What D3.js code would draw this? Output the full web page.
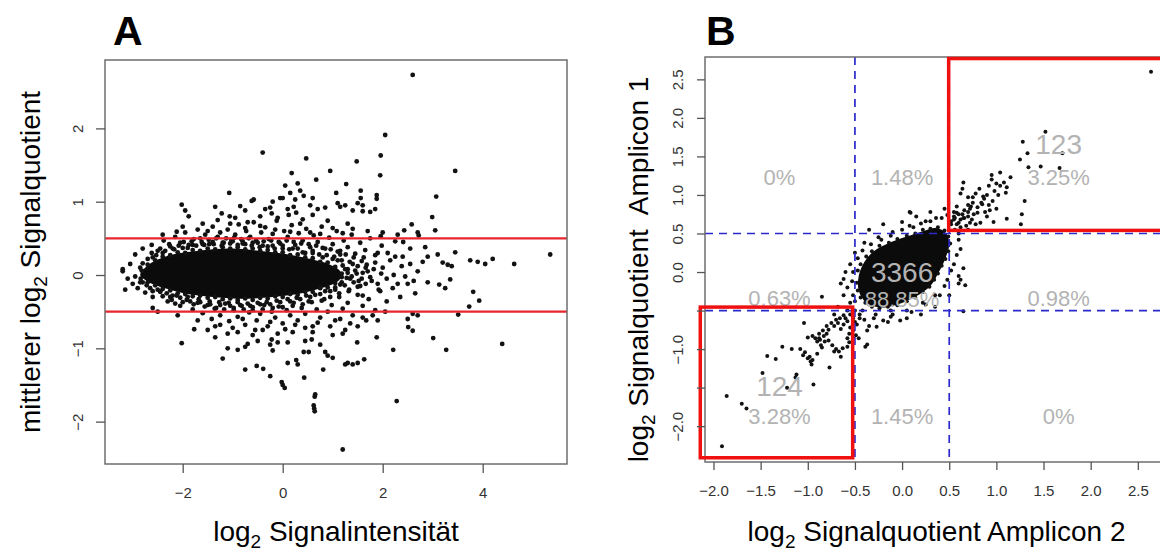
<!DOCTYPE html>
<html>
<head>
<meta charset="utf-8">
<script src="https://cdn.jsdelivr.net/npm/d3@7"></script>
<style>
  body { margin: 0; background: #fff; }
  svg { display: block; font-family: "Liberation Sans", Arial, Helvetica, sans-serif; }
</style>
</head>
<body>
<div id="chart"></div>
<script>
"use strict";

// ---- panel A: MA plot (mean log2 ratio vs log2 intensity) ----
const ticksAx = [-2, 0, 2, 4];
const ticksAy = [-2, -1, 0, 1, 2];
const limitsA = [0.5, -0.5];

// solid dense centre of the cloud (outline, data units)
const coreA = [
  [-2.85, 0.0], [-2.72, 0.12], [-2.5, 0.21], [-2.2, 0.28], [-1.8, 0.32], [-1.4, 0.35], [-1.0, 0.36],
  [-0.6, 0.34], [-0.2, 0.31], [0.2, 0.27], [0.6, 0.21], [0.95, 0.14], [1.15, 0.05], [1.15, -0.05],
  [0.95, -0.14], [0.6, -0.21], [0.2, -0.27], [-0.2, -0.3], [-0.6, -0.32], [-1.0, -0.32],
  [-1.4, -0.3], [-1.8, -0.27], [-2.2, -0.21], [-2.5, -0.15], [-2.72, -0.08]
];

// points on the rim of the dense centre
const rimA = [
  [-2.7, 0.14], [-2.55, 0.2], [-2.4, 0.25], [-2.25, 0.27], [-2.1, 0.31], [-1.95, 0.3], [-1.8, 0.34],
  [-1.65, 0.33], [-1.5, 0.36], [-1.35, 0.35], [-1.2, 0.38], [-1.05, 0.36], [-0.9, 0.38], [-0.75, 0.35],
  [-0.6, 0.36], [-0.45, 0.33], [-0.3, 0.34], [-0.15, 0.31], [0.0, 0.31], [0.15, 0.27], [0.3, 0.28],
  [0.45, 0.24], [0.6, 0.23], [0.75, 0.18], [0.9, 0.17], [1.05, 0.11], [1.18, 0.02],
  [-2.7, -0.1], [-2.55, -0.14], [-2.4, -0.19], [-2.25, -0.21], [-2.1, -0.25], [-1.95, -0.26],
  [-1.8, -0.29], [-1.65, -0.28], [-1.5, -0.31], [-1.35, -0.3], [-1.2, -0.33], [-1.05, -0.32],
  [-0.9, -0.34], [-0.75, -0.32], [-0.6, -0.34], [-0.45, -0.31], [-0.3, -0.32], [-0.15, -0.29],
  [0.0, -0.3], [0.15, -0.26], [0.3, -0.27], [0.45, -0.23], [0.6, -0.23], [0.75, -0.18], [0.9, -0.17],
  [1.05, -0.11], [1.18, -0.03], [-2.82, 0.06], [-2.84, -0.05]
];

const edgeA = [
  [-2.8, 0.16], [-2.6, 0.24], [-2.4, 0.3], [-2.2, 0.36], [-2.0, 0.37], [-1.8, 0.41], [-1.6, 0.42],
  [-1.4, 0.45], [-1.2, 0.44], [-1.0, 0.46], [-0.8, 0.43], [-0.6, 0.44], [-0.4, 0.4], [-0.2, 0.4],
  [0.0, 0.36], [0.2, 0.36], [0.4, 0.31], [0.6, 0.3], [0.8, 0.24], [1.0, 0.22], [1.2, 0.13], [1.3, 0.03],
  [-2.85, -0.1], [-2.65, -0.18], [-2.45, -0.23], [-2.25, -0.3], [-2.05, -0.31], [-1.85, -0.36],
  [-1.65, -0.37], [-1.45, -0.4], [-1.25, -0.41], [-1.05, -0.42], [-0.85, -0.41], [-0.65, -0.42],
  [-0.45, -0.4], [-0.25, -0.4], [-0.05, -0.37], [0.15, -0.36], [0.35, -0.33], [0.55, -0.3],
  [0.75, -0.26], [0.95, -0.22], [1.15, -0.13], [1.28, -0.04],
  [-2.7, 0.22], [-2.62, 0.3], [-2.53, 0.27], [-2.45, 0.36], [-2.35, 0.33], [-2.27, 0.42], [-2.17, 0.35],
  [-2.08, 0.4], [-1.98, 0.45], [-1.9, 0.37], [-1.82, 0.46], [-1.73, 0.4], [-1.65, 0.5], [-1.57, 0.41],
  [-1.48, 0.48], [-1.38, 0.42], [-1.3, 0.52], [-1.22, 0.4], [-1.13, 0.5], [-1.05, 0.43], [-0.97, 0.51],
  [-0.9, 0.41], [-0.83, 0.49], [-0.75, 0.42], [-0.68, 0.5], [-0.62, 0.4], [-0.53, 0.47], [-0.46, 0.38],
  [-0.38, 0.46], [-0.3, 0.39], [-0.23, 0.47], [-0.16, 0.36], [-0.08, 0.45], [0.0, 0.4], [0.08, 0.47],
  [0.13, 0.35], [0.22, 0.45], [0.3, 0.36], [0.37, 0.43], [0.45, 0.3], [0.52, 0.42], [0.6, 0.33],
  [0.67, 0.4], [0.73, 0.28], [0.8, 0.37], [0.88, 0.27], [0.96, 0.35], [1.03, 0.25], [1.1, 0.32],
  [1.18, 0.2], [1.26, 0.28], [1.34, 0.18], [1.42, 0.24], [1.5, 0.12], [1.58, 0.19], [1.66, 0.1],
  [-2.72, -0.14], [-2.6, -0.22], [-2.5, -0.2], [-2.4, -0.29], [-2.32, -0.25], [-2.22, -0.34],
  [-2.12, -0.28], [-2.0, -0.37], [-1.9, -0.3], [-1.78, -0.4], [-1.68, -0.33], [-1.56, -0.43],
  [-1.46, -0.36], [-1.36, -0.46], [-1.27, -0.37], [-1.17, -0.47], [-1.08, -0.38], [-0.98, -0.45],
  [-0.9, -0.37], [-0.78, -0.47], [-0.7, -0.39], [-0.6, -0.48], [-0.5, -0.38], [-0.4, -0.47],
  [-0.32, -0.37], [-0.2, -0.45], [-0.12, -0.35], [0.0, -0.44], [0.1, -0.33], [0.2, -0.42], [0.28, -0.31],
  [0.4, -0.4], [0.47, -0.28], [0.58, -0.37], [0.65, -0.27], [0.78, -0.35], [0.85, -0.22], [0.95, -0.3],
  [1.05, -0.17], [1.13, -0.25], [1.24, -0.14], [1.33, -0.2], [1.42, -0.1], [1.5, -0.16], [1.58, -0.05],
  [1.66, -0.12], [1.3, 0.08], [1.38, -0.02], [1.45, 0.06], [1.52, -0.08], [1.6, 0.03], [1.68, 0.14],
  [1.75, -0.03], [1.82, 0.08], [1.9, -0.12], [1.97, 0.02]
];

const midA = [
  [-2.95, 0.28], [-2.8, 0.36], [-2.62, 0.41], [-2.5, 0.33], [-2.38, 0.47], [-2.25, 0.39], [-2.15, 0.52],
  [-2.05, 0.44], [-1.95, 0.58], [-1.88, 0.41], [-1.78, 0.49], [-1.7, 0.62], [-1.62, 0.45], [-1.55, 0.55],
  [-1.47, 0.42], [-1.4, 0.66], [-1.33, 0.5], [-1.25, 0.58], [-1.18, 0.44], [-1.1, 0.62], [-1.03, 0.48],
  [-0.95, 0.55], [-0.88, 0.69], [-0.8, 0.46], [-0.73, 0.6], [-0.65, 0.52], [-0.58, 0.72], [-0.5, 0.44],
  [-0.43, 0.58], [-0.35, 0.65], [-0.28, 0.49], [-0.2, 0.56], [-0.12, 0.74], [-0.05, 0.43], [0.03, 0.6],
  [0.1, 0.52], [0.18, 0.68], [0.25, 0.41], [0.32, 0.57], [0.4, 0.47], [0.47, 0.63], [0.55, 0.38],
  [0.62, 0.54], [0.7, 0.45], [0.78, 0.66], [0.85, 0.36], [0.93, 0.51], [1.0, 0.42], [1.08, 0.6],
  [1.15, 0.33], [1.22, 0.47], [1.3, 0.38], [1.38, 0.55], [1.45, 0.29], [1.55, 0.44], [1.65, 0.34],
  [1.75, 0.5], [1.85, 0.27], [1.98, 0.4], [2.1, 0.3], [2.25, 0.46], [2.4, 0.25], [2.55, 0.36],
  [-2.4, 0.55], [-2.0, 0.66], [-1.5, 0.6], [-1.05, 0.7], [-0.75, 0.64], [-0.45, 0.67], [-0.15, 0.62],
  [0.15, 0.59], [0.35, 0.7], [0.55, 0.58], [0.75, 0.56], [1.0, 0.64], [1.2, 0.57], [1.4, 0.63],
  [1.7, 0.6], [2.0, 0.58], [2.3, 0.55],
  [-3.1, -0.05], [-2.9, -0.18], [-2.75, -0.24], [-2.6, -0.3], [-2.45, -0.22], [-2.3, -0.36], [-2.2, -0.28],
  [-2.05, -0.42], [-1.92, -0.34], [-1.8, -0.47], [-1.7, -0.38], [-1.6, -0.52], [-1.5, -0.41], [-1.42, -0.6],
  [-1.33, -0.45], [-1.25, -0.55], [-1.15, -0.39], [-1.07, -0.63], [-0.98, -0.48], [-0.9, -0.57],
  [-0.82, -0.42], [-0.75, -0.68], [-0.67, -0.51], [-0.6, -0.44], [-0.52, -0.62], [-0.45, -0.53],
  [-0.37, -0.41], [-0.3, -0.7], [-0.22, -0.5], [-0.15, -0.58], [-0.08, -0.43], [0.0, -0.66], [0.08, -0.48],
  [0.15, -0.55], [0.22, -0.38], [0.3, -0.62], [0.38, -0.45], [0.45, -0.53], [0.52, -0.36], [0.6, -0.7],
  [0.68, -0.47], [0.75, -0.58], [0.83, -0.33], [0.9, -0.5], [0.98, -0.41], [1.05, -0.62], [1.13, -0.3],
  [1.2, -0.46], [1.3, -0.38], [1.4, -0.55], [1.5, -0.27], [1.6, -0.42], [1.72, -0.33], [1.85, -0.48],
  [1.95, -0.22], [2.08, -0.36], [2.2, -0.18], [2.35, -0.3], [2.5, -0.12], [2.65, -0.25],
  [-2.5, -0.5], [-2.1, -0.55], [-1.7, -0.62], [-1.35, -0.7], [-1.0, -0.72], [-0.8, -0.6], [-0.55, -0.75],
  [-0.25, -0.64], [0.05, -0.74], [0.25, -0.68], [0.45, -0.72], [0.7, -0.65], [0.95, -0.7], [1.15, -0.6],
  [1.35, -0.66], [1.6, -0.58], [1.8, -0.55], [2.05, -0.5],
  [1.1, 0.2], [1.18, -0.1], [1.25, 0.08], [1.32, -0.22], [1.4, 0.15], [1.48, 0.02], [1.55, -0.15],
  [1.62, 0.24], [1.7, 0.05], [1.78, -0.08], [1.85, 0.17], [1.92, -0.2], [2.0, 0.1], [2.08, -0.05],
  [2.15, 0.2], [2.22, 0.0], [2.3, -0.12], [2.38, 0.12], [2.45, -0.02], [2.55, 0.15], [2.62, -0.08],
  [2.7, 0.05], [2.8, 0.18], [2.9, -0.1], [1.05, -0.2], [1.15, 0.28], [1.35, -0.05], [1.6, -0.28],
  [1.9, 0.3], [2.25, 0.25],
  [-3.2, 0.08], [-3.05, 0.15], [-2.95, -0.02], [-2.85, 0.1], [-2.8, -0.1], [-3.0, -0.12]
];

const outA = [
  [2.6, 2.73], [2.05, 1.91], [1.96, 1.63], [1.48, 1.55], [1.95, 1.36], [3.45, 1.42], [1.27, 1.24],
  [-0.4, 1.67], [0.47, 1.59], [0.95, 1.42], [0.18, 1.39], [0.67, 1.3], [0.05, 1.22], [0.3, 1.25],
  [0.15, 1.12], [-0.05, 1.05], [0.35, 1.15], [0.42, 1.08], [0.25, 1.03], [-0.2, 1.0], [0.6, 1.05],
  [0.55, 0.95], [-1.07, 1.12], [1.07, 1.12], [-2.02, 0.96], [-1.95, 0.88], [-1.88, 0.8], [-1.35, 0.93],
  [-1.22, 0.84], [-0.62, 1.01], [-0.58, 1.03], [-0.85, 0.94], [-0.75, 0.88], [-1.06, 0.8], [-0.35, 0.9],
  [-0.25, 0.92], [-0.22, 0.84], [0.0, 1.05], [0.1, 0.9], [0.22, 0.93], [0.12, 0.82], [0.27, 0.85],
  [0.7, 0.9], [0.85, 0.92], [1.56, 1.15], [1.56, 1.05], [1.88, 1.09], [1.88, 1.04], [3.07, 1.07],
  [1.1, 0.98], [1.5, 0.98], [1.15, 0.93], [1.25, 0.95], [1.6, 0.95], [1.4, 0.88], [1.6, 0.87],
  [1.75, 0.86], [1.85, 0.9], [2.99, 0.79], [3.05, 0.61], [2.58, 0.69], [2.43, 0.61], [2.7, 0.58],
  [2.72, 0.54], [1.96, 0.53], [3.45, 0.31], [5.35, 0.28], [4.63, 0.15], [4.2, 0.22], [4.05, 0.15],
  [3.9, 0.18], [3.75, 0.2], [2.41, 0.45], [2.85, 0.38], [3.2, 0.17], [3.3, 0.14], [3.38, 0.12],
  [3.1, 0.28], [2.9, 0.25], [-2.12, 0.59], [-1.6, 0.7], [-1.3, 0.75], [-0.95, 0.78], [-0.45, 0.8],
  [-0.1, 0.78], [0.4, 0.76], [0.9, 0.74], [1.3, 0.7], [-0.7, 0.72], [0.6, 0.82],
  [1.2, -2.38], [0.65, -1.63], [0.64, -1.66], [0.62, -1.78], [0.63, -1.82], [0.64, -1.86], [2.28, -1.72],
  [-0.02, -1.46], [0.0, -1.5], [0.04, -1.54], [-0.25, -1.38], [-0.75, -1.29], [-0.52, -1.24],
  [-0.39, -1.28], [-1.2, -1.14], [-2.02, -0.93], [-1.77, -0.74], [-1.1, -1.0], [-0.9, -1.02],
  [-0.75, -0.98], [-0.7, -0.94], [0.43, -1.4], [0.1, -1.2], [0.3, -1.22], [0.27, -1.16], [0.81, -1.29],
  [1.25, -1.22], [1.4, -1.22], [1.0, -1.13], [0.85, -1.05], [0.9, -1.1], [0.75, -0.95], [0.58, -0.88],
  [0.45, -0.9], [0.42, -1.05], [0.52, -1.05], [-0.2, -1.03], [-0.1, -0.92], [-0.25, -0.95],
  [-0.22, -0.88], [2.21, -1.02], [3.27, -1.02], [3.01, -0.86], [4.39, -0.94], [3.81, -0.23],
  [3.93, -0.35], [3.73, -0.43], [3.51, -0.54], [3.35, -0.06], [3.25, -0.18], [3.13, -0.13],
  [2.51, -0.71], [2.6, -0.76], [2.5, -0.6], [2.6, -0.53], [2.7, -0.55], [1.88, -0.85], [1.49, -0.92],
  [1.63, -1.15], [1.5, -1.2], [1.3, -1.2], [1.9, -0.62], [1.67, -0.62], [1.5, -0.7], [1.25, -0.75],
  [1.2, -0.8], [-1.5, -0.75], [-1.35, -0.85], [-1.1, -0.8], [-0.9, -0.78], [-0.6, -0.82], [-0.4, -0.75],
  [-0.1, -0.8], [0.2, -0.78], [0.6, -0.78], [1.0, -0.82], [-1.25, -0.68], [-0.5, -0.9], [0.1, -0.92],
  [-2.6, -0.45], [-2.15, -0.39], [-3.15, -0.2], [-3.2, 0.05]
];

// ---- panel B: replicate amplicons ----
const ticksBx = [-2, -1.5, -1, -0.5, 0, 0.5, 1, 1.5, 2, 2.5];
const ticksBy = [-2, -1.5, -1, -0.5, 0, 0.5, 1, 1.5, 2, 2.5];
const hiddenBy = [-1.5, -0.5];
const cutsB = [-0.5, 0.5];
const boxesB = [
  { x0: -2.14, x1: -0.524, y0: -2.41, y1: -0.455 },
  { x0: 0.494, x1: 2.95, y0: 0.54, y1: 2.77 }
];
const countsB = [
  { label: "123", x: 1.66, y: 1.65 },
  { label: "3366", x: 0.0, y: -0.01 },
  { label: "124", x: -1.3, y: -1.49 }
];
const percentsB = [
  { label: "0%", x: -1.3, y: 1.23 },
  { label: "1.48%", x: 0.0, y: 1.23 },
  { label: "3.25%", x: 1.66, y: 1.23 },
  { label: "0.63%", x: -1.3, y: -0.34 },
  { label: "88.85%", x: 0.0, y: -0.36 },
  { label: "0.98%", x: 1.66, y: -0.34 },
  { label: "3.28%", x: -1.3, y: -1.88 },
  { label: "1.45%", x: 0.0, y: -1.88 },
  { label: "0%", x: 1.66, y: -1.88 }
];

const coreB = [
  [-0.46, -0.05], [-0.4, 0.13], [-0.3, 0.27], [-0.15, 0.37], [0.05, 0.46], [0.22, 0.53], [0.36, 0.57],
  [0.47, 0.5], [0.5, 0.36], [0.46, 0.18], [0.39, 0.0], [0.3, -0.18], [0.14, -0.32], [-0.05, -0.42],
  [-0.24, -0.46], [-0.38, -0.4], [-0.46, -0.24]
];

const rimB = [
  [-0.47, 0.02], [-0.44, 0.1], [-0.38, 0.2], [-0.32, 0.27], [-0.24, 0.34], [-0.14, 0.38], [-0.05, 0.43],
  [0.05, 0.47], [0.14, 0.5], [0.22, 0.55], [0.3, 0.56], [0.38, 0.58], [0.45, 0.54], [0.49, 0.46],
  [0.51, 0.37], [0.49, 0.27], [0.46, 0.17], [0.42, 0.08], [0.38, -0.02], [0.34, -0.1], [0.29, -0.19],
  [0.22, -0.26], [0.14, -0.33], [0.05, -0.38], [-0.05, -0.43], [-0.15, -0.45], [-0.24, -0.47],
  [-0.32, -0.45], [-0.39, -0.4], [-0.44, -0.33], [-0.47, -0.24], [-0.48, -0.14]
];

const pointsB = [
  [-0.55, 0.1], [-0.5, 0.25], [-0.4, 0.38], [-0.25, 0.45], [-0.1, 0.52], [0.08, 0.6], [0.25, 0.66],
  [0.42, 0.7], [0.55, 0.68], [0.6, 0.5], [0.62, 0.3], [0.55, 0.1], [0.48, -0.1], [0.4, -0.3],
  [0.25, -0.42], [0.1, -0.52], [-0.1, -0.55], [-0.3, -0.6], [-0.45, -0.55], [-0.55, -0.4],
  [-0.58, -0.2], [-0.6, 0.0], [0.58, 0.62], [0.65, 0.7], [0.7, 0.55], [-0.35, 0.55], [-0.2, 0.62],
  [0.0, 0.65], [0.15, 0.72], [0.3, 0.78], [0.45, 0.82], [-0.62, -0.3], [-0.5, -0.65], [-0.35, -0.7],
  [-0.15, -0.65], [0.05, -0.6], [0.2, -0.55], [0.35, -0.45], [0.5, -0.3], [0.6, -0.15], [0.65, 0.05],
  [-0.68, -0.45], [-0.72, -0.55], [-0.6, -0.6], [0.08, 0.78], [0.09, 0.77],
  [-0.52, 0.0], [-0.47, 0.18], [-0.42, 0.28], [-0.33, 0.36], [-0.22, 0.42], [-0.12, 0.47], [0.0, 0.55],
  [0.12, 0.58], [0.2, 0.63], [0.3, 0.66], [0.36, 0.7], [0.48, 0.74], [0.52, 0.62], [0.56, 0.55],
  [0.6, 0.42], [0.58, 0.22], [0.52, 0.02], [0.45, -0.18], [0.35, -0.3], [0.22, -0.4], [0.05, -0.5],
  [-0.12, -0.5], [-0.28, -0.55], [-0.42, -0.5], [-0.5, -0.38], [-0.52, -0.3], [-0.53, -0.12],
  [0.52, 0.66], [0.56, 0.7], [0.6, 0.75], [0.62, 0.68], [0.66, 0.8], [0.7, 0.72], [0.73, 0.85],
  [0.76, 0.75], [0.8, 0.84], [0.84, 0.9], [0.68, 0.6], [0.72, 0.64], [0.62, 0.58], [0.58, 0.85],
  [0.55, 0.78], [0.87, 0.95], [0.9, 1.0], [0.98, 1.05], [0.92, 1.12], [1.0, 1.15], [1.02, 1.0],
  [0.96, 0.92], [-0.5, -0.5], [-0.55, -0.55], [-0.58, -0.5], [-0.62, -0.56], [-0.52, -0.6],
  [-0.48, -0.68], [-0.45, -0.6], [-0.4, -0.62], [-0.66, -0.6], [-0.7, -0.62], [-0.75, -0.66],
  [-0.8, -0.7], [-0.78, -0.75], [-0.84, -0.76], [-0.88, -0.8], [-0.82, -0.9], [-0.86, -0.95],
  [2.64, 2.6], [1.52, 1.82], [1.28, 1.69], [1.33, 1.54], [1.25, 1.46], [1.7, 1.54], [1.47, 1.37],
  [1.67, 1.35], [1.34, 1.36], [1.04, 1.29], [0.95, 1.26], [0.95, 1.2], [1.15, 1.23], [1.08, 1.16],
  [1.11, 1.1], [1.04, 1.12], [1.1, 1.03], [1.3, 0.92], [1.27, 0.75], [1.26, 0.62], [1.11, 0.69],
  [0.97, 0.65], [0.83, 0.64], [0.65, 1.16], [0.64, 1.08], [0.62, 1.02], [0.7, 0.97], [0.82, 1.08],
  [0.78, 1.02], [0.86, 0.98], [0.75, 0.97], [0.75, 0.9], [0.85, 0.88], [0.92, 0.87], [0.7, 0.87],
  [0.93, 0.8], [0.88, 0.78], [0.8, 0.77], [0.7, 0.78], [0.64, 0.75], [0.58, 0.77], [0.66, 0.7],
  [0.6, 0.64], [0.74, 0.68], [0.78, 0.62], [0.55, 0.72], [0.9, 0.72], [1.0, 0.82], [0.72, 0.82],
  [0.67, -0.17], [0.65, -0.51], [0.6, -0.05], [0.62, -0.1],
  [-1.91, -2.26], [-1.86, -1.61], [-1.7, -1.71], [-1.65, -1.77], [-1.48, -1.31], [-1.43, -1.09],
  [-1.34, -1.13], [-1.27, -0.97], [-1.22, -1.5], [-1.12, -1.33], [-1.13, -1.37], [-1.17, -1.0],
  [-1.08, -1.0], [-1.05, -1.08], [-1.03, -1.04], [-1.0, -1.12], [-0.98, -1.1], [-0.97, -1.16],
  [-0.96, -1.2], [-0.95, -1.14], [-0.94, -1.46], [-0.9, -1.06], [-0.9, -0.9], [-0.87, -0.88],
  [-0.85, -0.98], [-0.77, -1.24], [-0.65, -1.1], [-1.04, -0.66], [-1.0, -0.85], [-0.95, -0.83],
  [-0.92, -0.86], [-0.88, -0.86], [-0.83, -0.83], [-0.8, -0.8], [-0.78, -0.89], [-0.74, -0.95],
  [-0.7, -1.0], [-0.72, -1.03], [-0.67, -1.03], [-0.63, -0.99], [-0.58, -0.97], [-0.56, -0.91],
  [-0.58, -0.86], [-0.56, -0.8], [-0.72, -0.7], [-0.68, -0.66], [-0.65, -0.74], [-0.62, -0.68],
  [-0.58, -0.64], [-0.55, -0.72], [-0.52, -0.76], [-0.49, -0.82], [-0.46, -0.86], [-0.65, -0.15],
  [-0.62, -0.09], [-0.85, -0.32], [-0.37, -0.76], [-0.27, -0.71], [-0.2, -0.63], [-0.12, -0.58],
  [-0.02, -0.63], [-0.39, -0.97], [-0.37, -0.94]
];

const svgWidth = 1160;
const svgHeight = 552;
const svg = d3.select("#chart")
  .append("svg")
  .attr("width", svgWidth)
  .attr("height", svgHeight)
;

const xA = d3.scaleLinear().domain([-3.554, 5.686]).range([105, 567]);
const yA = d3.scaleLinear().domain([-2.578, 2.933]).range([464, 60]);
const xB = d3.scaleLinear().domain([-2.09, 2.82]).range([705, 1168]);
const yB = d3.scaleLinear().domain([-2.465, 2.79]).range([462, 57]);

const dotColor = "#121212";
const textGray = "#b3b3b3";

function drawDots(g, data, x, y, r) {
  g.selectAll(null)
    .data(data)
    .enter()
    .append("circle")
    .attr("cx", d => x(d[0]))
    .attr("cy", d => y(d[1]))
    .attr("r", r)
    .attr("fill", dotColor)
  ;
}

function drawCore(g, data, x, y) {
  const line = d3.line()
    .x(d => x(d[0]))
    .y(d => y(d[1]))
    .curve(d3.curveCatmullRomClosed)
  ;
  g.append("path")
    .attr("d", line(data))
    .attr("fill", "#0b0b0b")
  ;
}

function styleAxis(g) {
  g.attr("font-family", null).attr("font-size", null);
  g.select(".domain").remove();
  g.selectAll(".tick line").attr("stroke", "#555").attr("stroke-width", 1.3);
  g.selectAll(".tick text")
    .attr("fill", "#333")
    .style("font-size", "15px")
    .style("font-family", "'Liberation Sans', Arial, sans-serif")
  ;
}

function rotateLeftLabels(g, offset) {
  g.selectAll(".tick text")
    .attr("transform", "rotate(-90)")
    .attr("x", 0)
    .attr("y", -offset)
    .attr("dy", 0)
    .attr("text-anchor", "middle")
  ;
}

function frame(g, x, y) {
  const [x0, x1] = x.range();
  const [y0, y1] = y.range();
  g.append("rect")
    .attr("x", x0)
    .attr("y", y1)
    .attr("width", x1 - x0)
    .attr("height", y0 - y1)
    .attr("fill", "none")
    .attr("stroke", "#6e6e6e")
    .attr("stroke-width", 1.5)
  ;
}

function title(g, parts, tx, ty, rotate) {
  const t = g.append("text")
    .attr("text-anchor", "middle")
    .attr("font-size", 28)
    .attr("fill", "#000")
    .style("white-space", "pre")
    .attr("transform", `translate(${tx},${ty})` + (rotate ? " rotate(-90)" : ""))
  ;
  let shifted = false;
  for (const p of parts) {
    const s = t.append("tspan").text(p.text);
    if (p.sub) {
      s.attr("font-size", 19).attr("dy", 7);
      shifted = true;
    } else if (shifted) {
      s.attr("dy", -7);
      shifted = false;
    }
  }
}

function panelLetter(g, letter, x, y) {
  g.append("text")
    .attr("x", x)
    .attr("y", y)
    .attr("font-size", 41)
    .attr("font-weight", "bold")
    .text(letter)
  ;
}

// ================= panel A =================
const gA = svg.append("g");

drawCore(gA, coreA, xA, yA);
drawDots(gA, rimA, xA, yA, 2.4);
drawDots(gA, edgeA, xA, yA, 2.4);
drawDots(gA, midA, xA, yA, 2.4);
drawDots(gA, outA, xA, yA, 2.4);

gA.selectAll(null)
  .data(limitsA)
  .enter()
  .append("line")
  .attr("x1", xA.range()[0])
  .attr("x2", xA.range()[1])
  .attr("y1", d => yA(d))
  .attr("y2", d => yA(d))
  .attr("stroke", "#e8262e")
  .attr("stroke-width", 2.2)
;

frame(gA, xA, yA);

gA.append("g")
  .attr("transform", `translate(0, ${yA.range()[0]})`)
  .call(d3.axisBottom(xA).tickValues(ticksAx).tickSize(9).tickPadding(14).tickFormat(d3.format("d")))
  .call(styleAxis)
;

gA.append("g")
  .attr("transform", `translate(${xA.range()[0]}, 0)`)
  .call(d3.axisLeft(yA).tickValues(ticksAy).tickSize(9).tickFormat(d3.format("d")))
  .call(styleAxis)
  .call(g => rotateLeftLabels(g, 22))
;

title(gA, [{ text: "log" }, { text: "2", sub: true }, { text: " Signalintensität" }],
  d3.mean(xA.range()), 541, false);
title(gA, [{ text: "mittlerer log" }, { text: "2", sub: true }, { text: " Signalquotient" }],
  40, d3.mean(yA.range()), true);
panelLetter(gA, "A", xA.range()[0] + 8, 45);

// ================= panel B =================
const gB = svg.append("g");

drawCore(gB, coreB, xB, yB);
drawDots(gB, rimB, xB, yB, 2.0);
drawDots(gB, pointsB, xB, yB, 2.0);

gB.selectAll(null)
  .data(cutsB)
  .enter()
  .append("line")
  .attr("x1", d => xB(d))
  .attr("x2", d => xB(d))
  .attr("y1", yB.range()[1])
  .attr("y2", yB.range()[0])
  .attr("stroke", "#2a2acc")
  .attr("stroke-width", 1.7)
  .attr("stroke-dasharray", "8,6")
;

gB.selectAll(null)
  .data(cutsB)
  .enter()
  .append("line")
  .attr("x1", xB.range()[0])
  .attr("x2", xB.range()[1])
  .attr("y1", d => yB(d))
  .attr("y2", d => yB(d))
  .attr("stroke", "#2a2acc")
  .attr("stroke-width", 1.7)
  .attr("stroke-dasharray", "8,6")
;

gB.selectAll(null)
  .data(countsB)
  .enter()
  .append("text")
  .attr("x", d => xB(d.x))
  .attr("y", d => yB(d.y))
  .attr("text-anchor", "middle")
  .attr("dominant-baseline", "central")
  .attr("font-size", 28)
  .attr("fill", textGray)
  .text(d => d.label)
;

gB.selectAll(null)
  .data(percentsB)
  .enter()
  .append("text")
  .attr("x", d => xB(d.x))
  .attr("y", d => yB(d.y))
  .attr("text-anchor", "middle")
  .attr("dominant-baseline", "central")
  .attr("font-size", 22)
  .attr("fill", textGray)
  .text(d => d.label)
;

frame(gB, xB, yB);

gB.selectAll(null)
  .data(boxesB)
  .enter()
  .append("rect")
  .attr("x", d => xB(d.x0))
  .attr("y", d => yB(d.y1))
  .attr("width", d => xB(d.x1) - xB(d.x0))
  .attr("height", d => yB(d.y0) - yB(d.y1))
  .attr("fill", "none")
  .attr("stroke", "#f01010")
  .attr("stroke-width", 3.5)
;

gB.append("g")
  .attr("transform", `translate(0, ${yB.range()[0]})`)
  .call(d3.axisBottom(xB).tickValues(ticksBx).tickSize(8).tickPadding(15).tickFormat(d3.format(".1f")))
  .call(styleAxis)
;

gB.append("g")
  .attr("transform", `translate(${xB.range()[0]}, 0)`)
  .call(d3.axisLeft(yB).tickValues(ticksBy).tickSize(8)
    .tickFormat(d => hiddenBy.includes(d) ? "" : d3.format(".1f")(d)))
  .call(styleAxis)
  .call(g => rotateLeftLabels(g, 22))
;

title(gB, [{ text: "log" }, { text: "2", sub: true }, { text: " Signalquotient Amplicon 2" }],
  d3.mean(xB.range()), 541, false);
title(gB, [{ text: "log" }, { text: "2", sub: true }, { text: " Signalquotient  Amplicon 1" }],
  648, d3.mean(yB.range()) + 10, true);
panelLetter(gB, "B", xB.range()[0] + 1, 45);
</script>
</body>
</html>
